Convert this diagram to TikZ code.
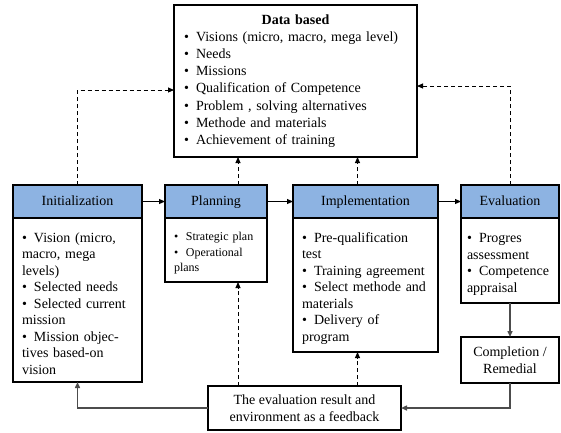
\documentclass[tikz,border=0pt]{standalone}
\usepackage{fontspec}
\setmainfont{Liberation Serif}
\usetikzlibrary{positioning,arrows.meta}
\definecolor{headblue}{RGB}{141,179,226}
\newlength{\bhang}\setlength{\bhang}{12pt}
\newcommand{\bitem}[1]{\par\hangindent=\bhang\hangafter=1\noindent\makebox[\bhang][l]{\textbullet}#1\par}

\begin{document}
\begin{tikzpicture}[x=1pt, y=-1pt, >={Triangle[length=6pt,width=5pt]},
  every node/.style={font=\fontsize{14}{16.5}\selectfont},
  box/.style={draw, line width=1.2pt, inner sep=0pt, outer sep=0pt},
  head/.style={box, fill=headblue, minimum height=33pt, text height=10pt, text depth=3pt},
  body/.style={box, fill=white, inner xsep=9pt, align=left},
  link/.style={->, line width=0.9pt},
  back/.style={->, line width=1.4pt, draw=black!70},
  dashlink/.style={->, line width=0.9pt, dash pattern=on 4pt off 3pt}]
\useasboundingbox (0,0) rectangle (561,432);
% data store on top
\node[box, minimum width=243pt, minimum height=152pt, inner xsep=10pt, text width=223pt,
  align=left, font=\fontsize{14}{17.2}\selectfont] (data) at (295.5,81) {%
  \centerline{\textbf{Data based}}
  \bitem{Visions (micro, macro, mega level)}
  \bitem{Needs}
  \bitem{Missions}
  \bitem{Qualification of Competence}
  \bitem{Problem , solving alternatives}
  \bitem{Methode and materials}
  \bitem{Achievement of training}};
% stages
\node[head, minimum width=129pt] (inith) at (77.5,201.5) {Initialization};
\node[body, below=0pt of inith, text width=111pt, minimum height=164pt] (initb) {%
  \bitem{Vision (micro,\\macro, mega\\levels)}
  \bitem{Selected needs}
  \bitem{Selected current\\mission}
  \bitem{Mission objec-\\tives based-on\\vision}};
\node[head, minimum width=102pt] (planh) at (216,201.5) {Planning};
\node[body, below=0pt of planh, text width=84pt, minimum height=64pt,
  font=\fontsize{12}{15.5}\selectfont] (planb) {%
  \bitem{Strategic plan}
  \bitem{Operational\\plans}};
\node[head, minimum width=145pt] (implh) at (365.5,201.5) {Implementation};
\node[body, below=0pt of implh, text width=127pt, minimum height=134pt] (implb) {%
  \bitem{Pre-qualification\\test}
  \bitem{Training agreement}
  \bitem{Select methode and\\materials}
  \bitem{Delivery of\\program}};
\node[head, minimum width=98pt] (evalh) at (510,201.5) {Evaluation};
\node[body, below=0pt of evalh, inner xsep=6pt, text width=86pt, minimum height=85pt] (evalb) {%
  \bitem{Progres\\assessment}
  \bitem{Competence\\appraisal}};
\node[box, minimum width=98pt, minimum height=46pt, align=center] (comp) at (510,360) {Completion /\\Remedial};
\node[box, minimum width=193pt, minimum height=44pt, align=center] (fb) at (304.5,408)
  {The evaluation result and\\environment as a feedback};
% flow between stages
\draw[link] (inith) -- (planh);
\draw[link] (planh) -- (implh);
\draw[link] (implh) -- (evalh);
% feedback loop
\draw[back] (evalb) -- (comp);
\draw[back] (comp.south) |- (fb.east);
\draw[back] (fb.west) -| (initb.south);
% links to and from the data
\coordinate (pdash) at ([xshift=22pt]planb.south);
\coordinate (idash) at ([xshift=-8pt]implb.south);
\draw[dashlink] (pdash |- fb.north) -- (pdash);
\draw[dashlink] (idash |- fb.north) -- (idash);
\draw[dashlink] (pdash |- planh.north) -- (pdash |- data.south);
\draw[dashlink] (idash |- implh.north) -- (idash |- data.south);
\draw[dashlink] (inith.north) |- ([yshift=-9pt]data.west);
\draw[dashlink] (evalh.north) |- ([yshift=-5pt]data.east);
\end{tikzpicture}
\end{document}
